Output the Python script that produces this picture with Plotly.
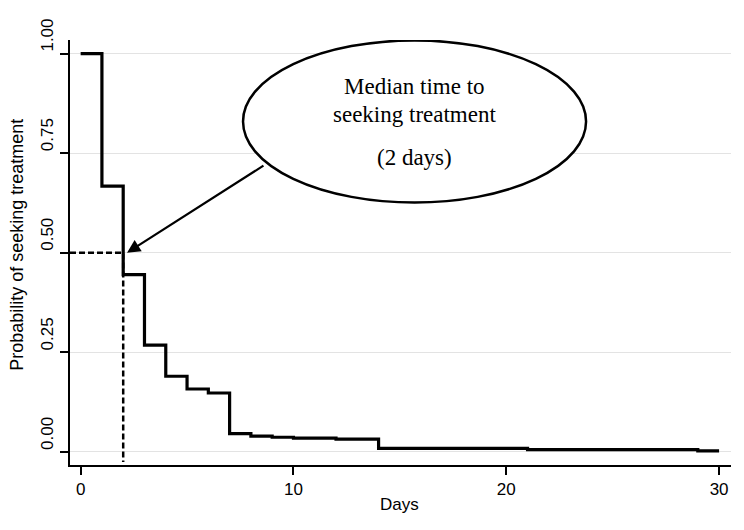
import plotly.graph_objects as go

days = [0, 1, 2, 3, 4, 5, 6, 7, 8, 9, 10, 12, 14, 21, 29, 30]
survival = [1.0, 0.667, 0.445, 0.268, 0.19, 0.158, 0.148, 0.046, 0.040, 0.037, 0.035, 0.032, 0.009, 0.006, 0.003, 0.003]
median_day = 2
median_prob = 0.5
y_ticks = [0, 0.25, 0.5, 0.75, 1.0]
y_tick_labels = ["0.00", "0.25", "0.50", "0.75", "1.00"]
x_ticks = [0, 10, 20, 30]

X_RANGE = [-0.5, 30.56]
Y_RANGE = [-0.0327, 1.034]

fig = go.Figure()
fig.add_trace(go.Scatter(x=days, y=survival, mode="lines", line=dict(shape="hv", color="black", width=3.2),
                         showlegend=False, hoverinfo="skip"))
# dashed median guides
fig.add_trace(go.Scatter(x=[X_RANGE[0], median_day, median_day], y=[median_prob, median_prob, -0.025], mode="lines",
                         line=dict(color="black", width=2.5, dash="6px,3px"), showlegend=False, hoverinfo="skip"))

fig.add_shape(type="circle", xref="x", yref="y", x0=7.63, x1=23.75, y0=0.626, y1=1.033,
              line=dict(color="black", width=2.5), fillcolor="white", layer="above")

serif = "Liberation Serif, Times New Roman, serif"
fig.add_annotation(x=2.18, y=0.5, ax=8.66, ay=0.721, axref="x", ayref="y", xref="x", yref="y",
                   text="", showarrow=True, arrowhead=2, arrowsize=1.2, arrowwidth=2.2, arrowcolor="black")
for txt, yy in [("Median time to", 0.917), ("seeking treatment", 0.847), ("(2 days)", 0.739)]:
    fig.add_annotation(x=15.7, y=yy, text=txt, showarrow=False,
                       font=dict(family=serif, size=23, color="black"))

# axis titles
fig.add_annotation(xref="paper", yref="paper", x=0.499, y=-0.094, text="Days", showarrow=False,
                   yanchor="middle", font=dict(size=17))
fig.add_annotation(xref="paper", yref="paper", x=-0.0802, y=0.518, text="Probability of seeking treatment",
                   showarrow=False, textangle=-90, xanchor="center", yanchor="middle", font=dict(size=18))

fig.update_layout(
    width=744, height=530,
    margin=dict(l=62, r=21, t=32, b=73),
    paper_bgcolor="white", plot_bgcolor="white",
    font=dict(family="Liberation Sans, Arial, sans-serif", size=17, color="black"),
    xaxis=dict(range=X_RANGE, tickvals=x_ticks, showgrid=False, zeroline=False, automargin=False,
               showline=True, linecolor="black", linewidth=1.5, ticks="outside", ticklen=8,
               tickcolor="black", tickwidth=1.5),
    yaxis=dict(range=Y_RANGE, tickvals=y_ticks, ticktext=y_tick_labels, tickangle=-90, automargin=False,
               showgrid=True, gridcolor="#e3e3e3", gridwidth=1, zeroline=False, ticklabelshift=-16,
               showline=True, linecolor="black", linewidth=1.5, ticks="outside", ticklen=8,
               tickcolor="black", tickwidth=1.5),
)

fig.write_html("out.html")
